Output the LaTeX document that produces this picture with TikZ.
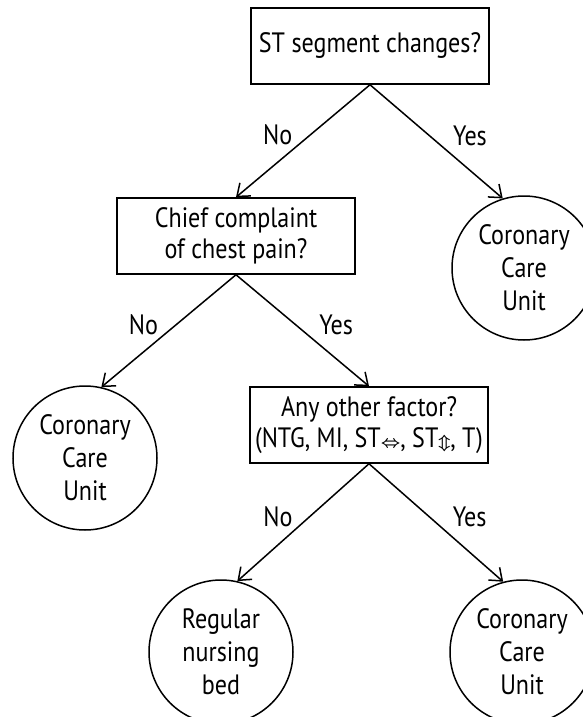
\documentclass[tikz,border=0pt]{standalone}
\usepackage{fontspec}
\setmainfont{PT Sans}[FakeStretch=0.86]
\usetikzlibrary{arrows.meta}

\newcommand{\harrow}{{\footnotesize\mathversion{bold}$\Leftrightarrow$}}
\newcommand{\varrow}{{\footnotesize\mathversion{bold}$\Updownarrow$}}

\tikzset{
    question/.style={draw, line width=0.75pt, minimum width=119pt, minimum height=38pt,
        align=center, inner sep=2pt, font=\fontsize{14}{15.5}\selectfont},
    outcome/.style={draw, line width=0.75pt, circle, minimum size=72pt, inner sep=0pt,
        align=center, font=\fontsize{14}{16.5}\selectfont},
    answer/.style={midway, inner sep=0pt, yshift=3pt, font=\fontsize{14}{15}\selectfont},
}

\begin{document}
\begin{tikzpicture}[x=0.5pt, y=-0.5pt, >={Straight Barb[length=5.5pt, width=8.5pt]}]
    \useasboundingbox (0, 0) rectangle (583, 717);

    % Questions
    \node [question] (stq) at (370, 46) {ST segment changes?};
    \node [question] (painq) at (236, 236) {Chief complaint\\of chest pain?};
    \node [question] (otherq) at (369, 425)
        {Any other factor?\\(NTG, MI, ST\harrow, ST\varrow, T)};

    % Outcomes
    \node [outcome] (ccua) at (524, 268) {Coronary\\Care\\Unit};
    \node [outcome] (ccub) at (85, 458) {Coronary\\Care\\Unit};
    \node [outcome] (bed) at (221, 652) {Regular\\nursing\\bed};
    \node [outcome] (ccuc) at (522, 652) {Coronary\\Care\\Unit};

    % Branches
    \draw [->, line width=0.75pt] (stq.south) -- (painq.north)
        node [answer, left=5pt] (stno) {No};
    \draw [->, line width=0.75pt] (stq.south) -- (ccua.107)
        node [answer, right=8pt] (styes) {Yes};
    \draw [->, line width=0.75pt] (painq.south) -- (ccub.77)
        node [answer, left=5pt] (painno) {No};
    \draw [->, line width=0.75pt] (painq.south) -- (otherq.north)
        node [answer, right=8pt] (painyes) {Yes};
    \draw [->, line width=0.75pt] (otherq.south) -- (bed.77)
        node [answer, left=5pt] (otherno) {No};
    \draw [->, line width=0.75pt] (otherq.south) -- (ccuc.105)
        node [answer, right=8pt] (otheryes) {Yes};

\end{tikzpicture}
\end{document}
